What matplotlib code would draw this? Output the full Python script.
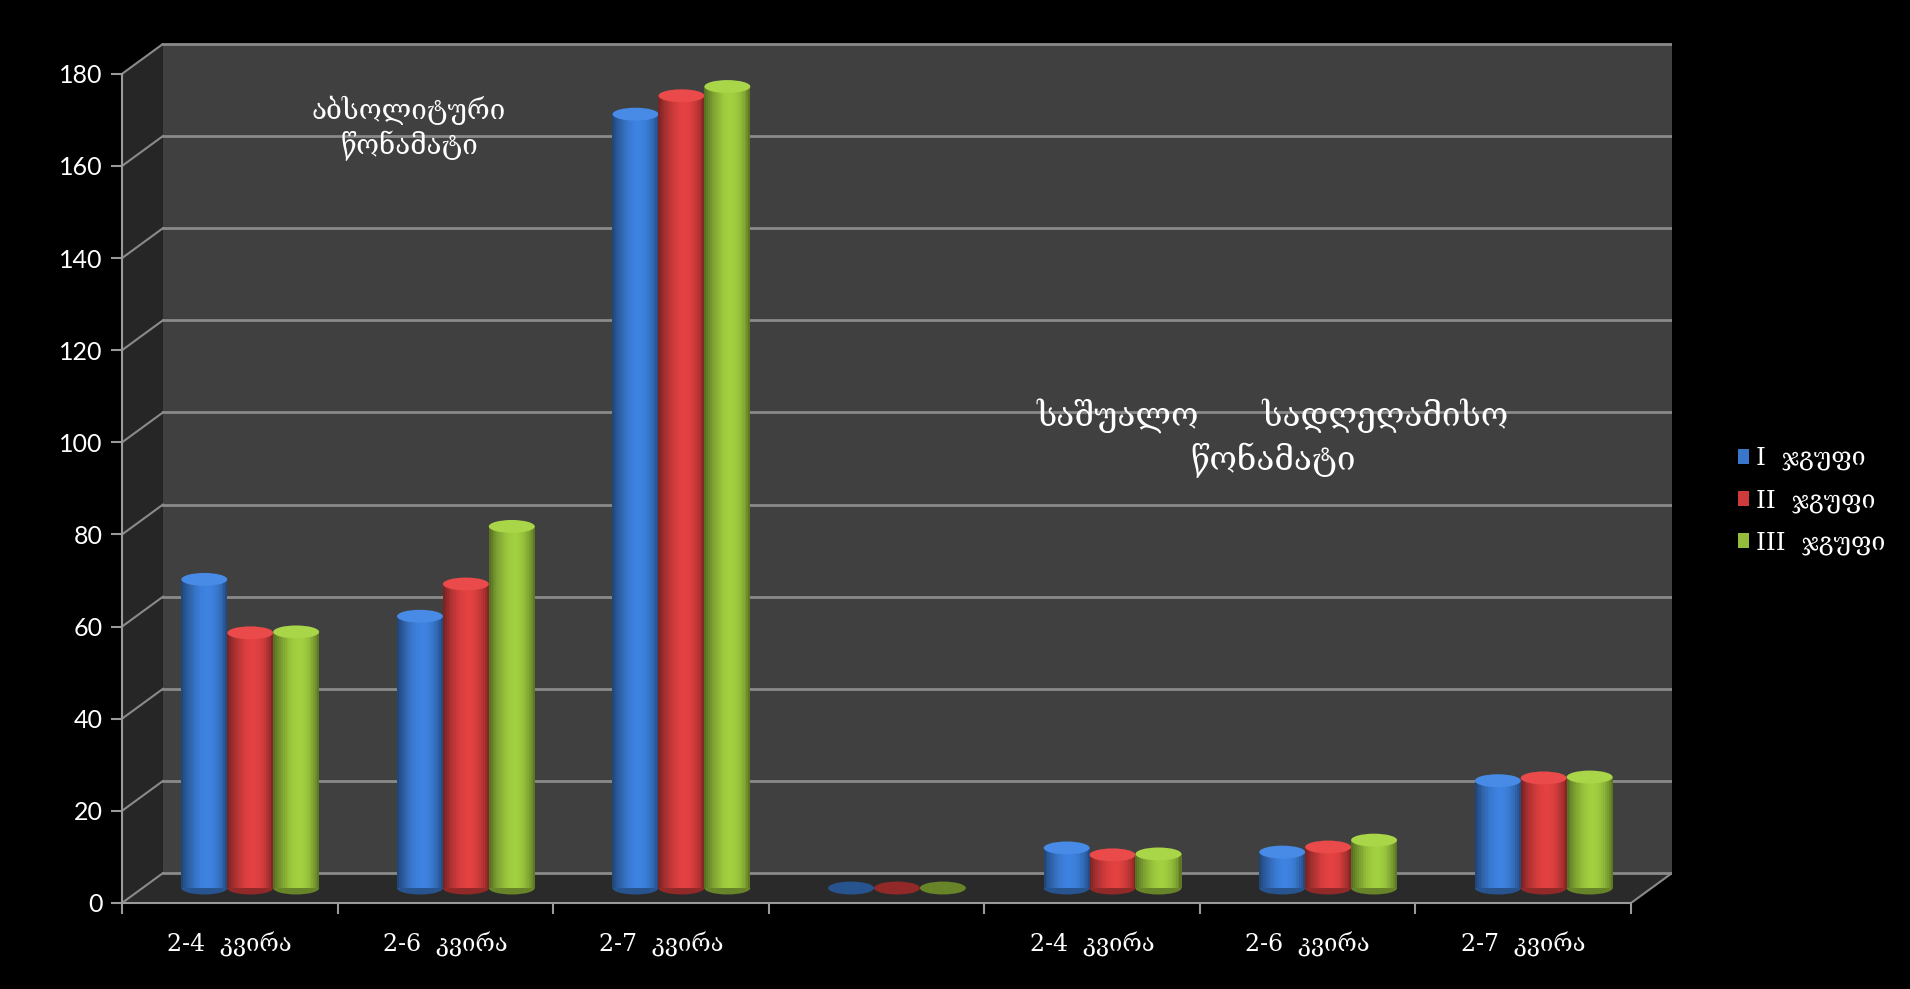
import matplotlib.pyplot as plt
import numpy as np
from matplotlib.patches import Polygon, Ellipse, Patch

# chart data
categories = ['2-4  კვირა', '2-6  კვირა', '2-7  კვირა', '',
              '2-4  კვირა', '2-6  კვირა', '2-7  კვირა']
group_1 = [67, 59, 168, 0, 8.7, 7.8, 23.3]
group_2 = [55.4, 66, 172, 0, 7.2, 8.9, 23.9]
group_3 = [55.6, 78.5, 174, 0, 7.4, 10.4, 24.1]
series_names = ['I  ჯგუფი', 'II  ჯგუფი', 'III  ჯგუფი']
y_ticks = [0, 20, 40, 60, 80, 100, 120, 140, 160, 180]

colors = ['#3877cc', '#cf3b3b', '#93bd3a']
geo_font = ['DejaVu Serif', 'DejaVu Sans']

# fake 3D depth (in data units)
DX = 0.19
DY = 6.5
ymax = y_ticks[-1]
n = len(categories)

fig = plt.figure(figsize=(19.1, 9.89), dpi=100, facecolor='black')
ax = fig.add_axes([122 / 1910, 86 / 989, 1550 / 1910, 860 / 989])
ax.set_facecolor('none')
ax.set_xlim(-0.5, n - 0.5 + DX)
ax.set_ylim(0, ymax + DY + 0.2)

x0, x1 = -0.5, n - 0.5
# side wall, back wall, floor
ax.add_patch(Polygon([(x0, 0), (x0 + DX, DY), (x0 + DX, ymax + DY), (x0, ymax)],
                     closed=True, fc='#262626', ec='none', zorder=0.5))
ax.add_patch(Polygon([(x0 + DX, DY), (x1 + DX, DY), (x1 + DX, ymax + DY), (x0 + DX, ymax + DY)],
                     closed=True, fc='#404040', ec='none', zorder=0.5))
ax.add_patch(Polygon([(x0, 0), (x1, 0), (x1 + DX, DY), (x0 + DX, DY)],
                     closed=True, fc='#2a2a2a', ec='none', zorder=0.6))

# gridlines on the walls
for v in y_ticks:
    ax.plot([x0 + DX, x1 + DX], [v + DY, v + DY], color='#8a8a8a', lw=2, zorder=0.8)
    ax.plot([x0, x0 + DX], [v, v + DY], color='#8a8a8a', lw=1.5, zorder=0.8)
ax.plot([x1, x1 + DX], [0, DY], color='#8a8a8a', lw=1.5, zorder=0.8)

# cylinders
bar_w = 0.213
base = DY / 2
ell_h = 2.8
nslice = 24
t = (np.arange(nslice) + 0.5) / nslice
shade = 0.55 + 0.55 * np.sin(np.pi * t ** 1.2) ** 0.7
xc = np.arange(n) + DX / 2
for i, (vals, col) in enumerate(zip([group_1, group_2, group_3], colors)):
    rgb = np.array(plt.matplotlib.colors.to_rgb(col))
    cx = xc + (i - 1) * bar_w
    for v, xx in zip(vals, cx):
        ax.add_patch(Ellipse((xx, base), bar_w, ell_h, fc=rgb * 0.7,
                             ec='none', zorder=3 + i * 0.1))
    for k in range(nslice):
        c = np.clip(rgb * shade[k], 0, 1)
        ax.bar(cx - bar_w / 2 + (k + 0.5) * bar_w / nslice, vals,
               width=bar_w / nslice * 1.05, bottom=base, color=c, lw=0,
               zorder=3.05 + i * 0.1)
    top = np.clip(rgb * 1.08 + 0.04, 0, 1)
    for v, xx in zip(vals, cx):
        if v > 0:
            ax.add_patch(Ellipse((xx, base + v), bar_w, ell_h, fc=top,
                                 ec='none', zorder=3.08 + i * 0.1))

# axes styling
for s in ['top', 'right']:
    ax.spines[s].set_visible(False)
ax.spines['left'].set_bounds(0, ymax)
ax.spines['bottom'].set_bounds(x0, x1)
for s in ['left', 'bottom']:
    ax.spines[s].set_color('#9a9a9a')
    ax.spines[s].set_linewidth(1.5)

ax.set_yticks(y_ticks)
ax.set_yticklabels([str(v) for v in y_ticks], fontsize=18, family='Lato', color='white')
ax.tick_params(axis='y', colors='#9a9a9a', labelcolor='white', length=8, width=1.5, pad=6)

ax.set_xticks(np.arange(n))
ax.set_xticklabels(categories, fontsize=17, family=geo_font, color='white')
ax.set_xticks(np.arange(-0.5, n, 1), minor=True)
ax.tick_params(axis='x', which='major', length=0, pad=21, labelcolor='white')
ax.tick_params(axis='x', which='minor', length=8, width=1.5, colors='#9a9a9a')

# text inside the chart
fig.text(409 / 1910, 1 - 128 / 989, 'აბსოლიტური\nწონამატი', color='white',
         fontsize=20, family=geo_font, ha='center', va='center', linespacing=1.25)
fig.text(1273 / 1910, 1 - 438 / 989, 'საშუალო      სადღეღამისო\nწონამატი', color='white',
         fontsize=24, family=geo_font, ha='center', va='center', linespacing=1.35)

handles = [Patch(facecolor=c) for c in colors]
fig.legend(handles, series_names, loc='center left',
           bbox_to_anchor=(1715 / 1910, 1 - 501 / 989), frameon=False,
           labelcolor='white', handlelength=0.45, handleheight=0.55,
           handletextpad=0.3, labelspacing=0.75,
           prop={'family': geo_font, 'size': 18})

fig.savefig('out.png', dpi=100, facecolor='black')
